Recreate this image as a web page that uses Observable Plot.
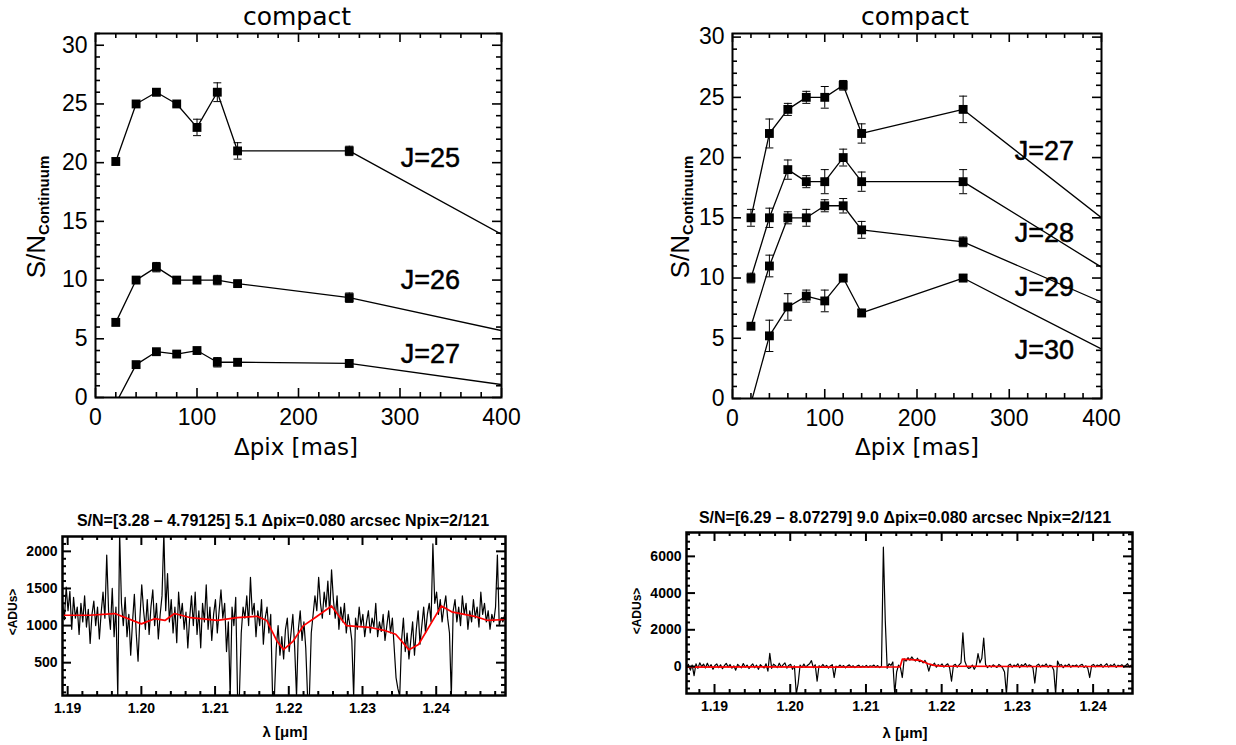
<!DOCTYPE html>
<html><head><meta charset="utf-8">
<script src="https://cdn.jsdelivr.net/npm/d3@7"></script>
<script src="https://cdn.jsdelivr.net/npm/@observablehq/plot@0.6"></script>
<style>
body{margin:0;background:#fff;}
#wrap{position:relative;width:1236px;height:745px;overflow:hidden;font-family:"Liberation Sans",Arial,sans-serif;color:#000;}
.abs{position:absolute;white-space:nowrap;line-height:1;}
.rot{transform:translate(-50%,-50%) rotate(-90deg);}
.ctr{transform:translate(-50%,-50%);}
</style></head><body><div id="wrap"></div>
<script>
// ---------- top panels: S/N vs pixel scale ----------
const pixScale = [20, 40, 60, 80, 100, 120, 140, 250, 400];

const leftNames = ["J=25", "J=26", "J=27"];
const leftJ25 = [20.1, 25.0, 26.0, 25.0, 23.0, 26.0, 21.0, 21.0, 13.9];
const leftJ25Err = [0.3, 0.2, 0.3, 0.2, 0.7, 0.8, 0.7, 0.4, 0];
const leftJ26 = [6.4, 10.0, 11.1, 10.0, 10.0, 10.0, 9.7, 8.5, 5.7];
const leftJ26Err = [0.3, 0.2, 0.4, 0.3, 0.2, 0.4, 0.2, 0.4, 0];
const leftJ27 = [-0.5, 2.8, 3.9, 3.7, 4.0, 3.0, 3.0, 2.9, 1.1];
const leftJ27Err = [0, 0.2, 0.2, 0.2, 0.2, 0.4, 0.3, 0.3, 0];
const leftLabelX = [330, 330, 330];
const leftLabelY = [20.4, 10.0, 3.7];

const rightNames = ["J=27", "J=28", "J=29", "J=30"];
const rightJ27 = [15.0, 22.0, 24.0, 25.0, 25.0, 26.0, 22.0, 24.0, 15.0];
const rightJ27Err = [0.7, 1.2, 0.5, 0.5, 0.9, 0.4, 0.8, 1.1, 0];
const rightJ28 = [10.0, 15.0, 19.0, 18.0, 18.0, 20.0, 18.0, 18.0, 10.9];
const rightJ28Err = [0.4, 0.8, 0.8, 0.5, 1.0, 0.7, 0.8, 1.0, 0];
const rightJ29 = [6.0, 11.0, 15.0, 15.0, 16.0, 16.0, 14.0, 13.0, 8.0];
const rightJ29Err = [0.2, 0.9, 0.5, 0.7, 0.5, 0.6, 0.7, 0.4, 0];
const rightJ30 = [-0.4, 5.2, 7.6, 8.5, 8.1, 10.0, 7.1, 10.0, 4.1];
const rightJ30Err = [0, 1.3, 1.1, 0.5, 0.9, 0.3, 0.3, 0.3, 0];
const rightLabelX = [338, 338, 338, 338];
const rightLabelY = [20.5, 13.7, 9.2, 4.0];

const topXTicks = [0, 100, 200, 300, 400];
const topYTicks = [0, 5, 10, 15, 20, 25, 30];

// ---------- bottom panels: spectra ----------
const specStep = 0.00025;
const specLeftStart = 1.1893;
const specLeftFlux = [
1320,1080,1520,1200,1460,950,1380,1100,1250,880,1300,1050,1400,980,1220,760,1150,1330,1000,1250,
820,1180,1450,1100,1950,1200,950,1500,850,1250,40,2250,1300,1000,1380,850,1150,600,1050,1420,
900,520,1100,1550,1200,950,1350,880,1250,1480,1000,1300,820,1150,1400,2250,1200,1700,1050,1350,
900,1250,770,1450,1100,1300,950,1180,700,1100,1400,1000,1450,880,1200,700,1300,1050,1550,950,
1250,800,1150,1350,900,1200,1480,1100,1300,650,1050,40,1250,1000,1380,40,60,900,1250,1100,
1400,1000,1650,1150,1300,850,1200,1000,1350,750,1100,1250,900,1150,40,50,700,1000,600,850,
550,950,1100,650,900,1150,700,40,950,1200,800,1050,700,40,60,900,1150,1400,1200,1650,
1300,1100,1450,1250,1600,1150,1750,1350,1100,1400,950,1250,1050,1300,900,1150,1000,800,40,1100,
950,1250,1000,1150,850,1050,1200,900,1100,980,1300,850,1050,920,1150,800,1000,1200,900,1100,
700,300,150,50,800,1100,650,900,550,800,1050,600,950,1200,750,1000,1250,900,1150,1300,
1050,2100,1300,1450,1150,1350,1050,1250,1400,1100,900,40,1200,1350,1050,1250,1000,1400,1150,1300,
950,1200,1050,1350,1100,1250,980,1450,1150,1300,1050,1200,950,1150,1050,1250,1950,1000,1100,1050,
1150];
const contLeftLam = [1.1895,1.1929,1.1964,1.2000,1.2018,1.2032,1.2045,1.2067,1.2103,1.2130,1.2157,1.2170,1.2184,1.2193,1.2206,1.2220,1.2237,1.2258,1.2269,1.2278,1.2309,1.2331,1.2345,1.2363,1.2376,1.2394,1.2407,1.2421,1.2452,1.2470,1.2495];
const contLeftFlux = [1139,1139,1162,1023,1093,1069,1162,1106,1069,1106,1125,1069,792,676,792,1000,1116,1264,1116,1000,977,931,884,676,745,1046,1264,1185,1125,1069,1083];

const specRightStart = 1.1863;
const specRightFlux = [
-50,120,-200,80,-500,150,-100,200,0,130,-80,180,-40,100,-150,60,140,-60,90,-120,
50,170,-30,110,-90,40,-200,120,20,-70,160,-40,80,-110,30,140,-60,70,-150,100,
10,-80,150,-250,720,-100,130,40,-60,180,-30,90,200,-90,60,120,-150,40,-1500,-900,
80,-50,130,-40,70,150,320,-60,90,-800,40,-30,110,-20,60,-90,30,100,-600,20,
-40,80,-20,50,-70,30,90,-30,40,-60,20,70,-40,30,-20,60,-50,40,0,80,
-30,50,-60,20,6500,2500,-100,150,60,250,-1500,-300,80,-50,-600,420,300,480,350,520,
380,300,450,260,320,200,330,150,-250,120,60,180,-40,100,30,140,-30,70,150,-80,
-800,60,120,-40,90,200,1830,300,20,-100,-60,80,-150,40,700,200,450,1550,100,-60,
50,-30,90,20,-50,110,40,-80,-300,-1500,60,130,-40,80,10,150,-60,100,30,160,
-20,90,40,-70,-900,60,130,-30,80,20,140,-40,70,30,-200,-1500,300,50,110,-60,
80,20,130,-40,60,10,90,-30,70,120,-50,40,-100,-600,50,110,-20,80,30,120,
-40,60,150,-30,90,20,140,-50,70,30,100,-40,60,150,-20,80];
const contRightLam = [1.1863,1.1950,1.2050,1.2145,1.2148,1.2160,1.2172,1.2182,1.2190,1.2200,1.2300,1.2452];
const contRightFlux = [-30,-20,-30,-20,400,380,330,150,60,20,0,0];

const lamTicks = [1.19, 1.20, 1.21, 1.22, 1.23, 1.24];
const leftFluxTicks = [500, 1000, 1500, 2000];
const rightFluxTicks = [0, 2000, 4000, 6000];

const titleTop = "compact";
const titleSpecLeft = "S/N=[3.28 \u2013 4.79125] 5.1 \u0394pix=0.080 arcsec Npix=2/121";
const titleSpecRight = "S/N=[6.29 \u2013 8.07279] 9.0 \u0394pix=0.080 arcsec Npix=2/121";

// ---------- helpers ----------
const wrap = document.getElementById("wrap");
const FONT = "Liberation Sans, Arial, sans-serif";
const capSymbol = {draw(ctx) { ctx.moveTo(-4, 0); ctx.lineTo(4, 0); }};

function place(el, left, top) {
  el.style.position = "absolute";
  el.style.left = left + "px";
  el.style.top = top + "px";
  wrap.appendChild(el);
}
function addText(html, x, y, css, cls) {
  const d = document.createElement("div");
  d.className = "abs " + (cls || "ctr");
  d.innerHTML = html;
  d.style.left = x + "px";
  d.style.top = y + "px";
  Object.assign(d.style, css || {});
  wrap.appendChild(d);
}
function frameTicks(o) {
  const H = o.height - o.marginTop - o.marginBottom;
  const W = o.width - o.marginLeft - o.marginRight;
  const m = [];
  const sw = o.tickWidth;
  for (const [vals, len] of [[o.xMajor, o.majLen], [o.xMinor, o.minLen]]) {
    m.push(Plot.tickX(vals, {x: d => d, insetTop: H - len, stroke: "black", strokeWidth: sw}));
    m.push(Plot.tickX(vals, {x: d => d, insetBottom: H - len, stroke: "black", strokeWidth: sw}));
  }
  for (const [vals, len] of [[o.yMajor, o.majLen], [o.yMinor, o.minLen]]) {
    m.push(Plot.tickY(vals, {y: d => d, insetRight: W - len, stroke: "black", strokeWidth: sw}));
    m.push(Plot.tickY(vals, {y: d => d, insetLeft: W - len, stroke: "black", strokeWidth: sw}));
  }
  return m;
}

function snPanel(cfg) {
  const rows = [], errRows = [];
  cfg.series.forEach((vals, s) => {
    vals.forEach((v, i) => {
      rows.push({x: pixScale[i], y: v, s: cfg.names[s]});
      const e = cfg.errs[s][i];
      if (pixScale[i] <= 250 && v >= 0) errRows.push({x: pixScale[i], y: v, lo: v - e, hi: v + e, s: cfg.names[s]});
    });
  });
  const bars = errRows.filter(d => d.hi - d.lo > 0);
  const labels = cfg.names.map((n, i) => ({x: cfg.labelX[i], y: cfg.labelY[i], t: n}));
  const o = {width: cfg.width, height: cfg.height, marginLeft: cfg.ml, marginRight: cfg.mr, marginTop: cfg.mt, marginBottom: cfg.mb};
  const minorX = d3.range(0, 401, 20).filter(v => !topXTicks.includes(v));
  const minorY = d3.range(0, Math.floor(cfg.ymax) + 1, 1).filter(v => !topYTicks.includes(v));
  const svg = Plot.plot({
    ...o,
    style: {fontFamily: FONT, background: "white", overflow: "visible"},
    x: {domain: [0, 400], label: null},
    y: {domain: [0, cfg.ymax], label: null},
    marks: [
      Plot.line(rows, {x: "x", y: "y", z: "s", stroke: "black", strokeWidth: 1.3, clip: true}),
      Plot.ruleX(bars, {x: "x", y1: "lo", y2: "hi", stroke: "black", strokeWidth: 1, clip: true}),
      Plot.dot(bars, {x: "x", y: "lo", symbol: capSymbol, stroke: "black", strokeWidth: 1, fill: "none"}),
      Plot.dot(bars, {x: "x", y: "hi", symbol: capSymbol, stroke: "black", strokeWidth: 1, fill: "none"}),
      Plot.dot(errRows, {x: "x", y: "y", symbol: "square", r: 5, fill: "black", stroke: "none", clip: true}),
      Plot.text(labels, {x: "x", y: "y", text: "t", fontSize: 27, fill: "black", stroke: "black", strokeWidth: 0.5, textAnchor: "middle", fontFamily: FONT}),
      ...frameTicks({...o, xMajor: topXTicks, xMinor: minorX, yMajor: topYTicks.filter(v => v <= cfg.ymax), yMinor: minorY, majLen: 9, minLen: 5, tickWidth: 1.6}),
      Plot.frame({stroke: "black", strokeWidth: 2}),
      Plot.axisX(topXTicks, {tickSize: 0, tickPadding: 11, fontSize: 23, fontFamily: FONT, fill: "black"}),
      Plot.axisY(topYTicks, {tickSize: 0, tickPadding: 8, fontSize: 23, fontFamily: FONT, fill: "black"})
    ]
  });
  place(svg, cfg.left, cfg.top);
}

function specPanel(cfg) {
  const rows = cfg.flux.map((v, i) => ({lam: cfg.start + i * specStep, v}));
  const cont = cfg.contLam.map((l, i) => ({lam: l, v: cfg.contFlux[i]}));
  const o = {width: cfg.width, height: cfg.height, marginLeft: cfg.ml, marginRight: cfg.mr, marginTop: cfg.mt, marginBottom: cfg.mb};
  const minorX = d3.range(1.18, 1.26, 0.002).map(v => +v.toFixed(3)).filter(v => v >= cfg.xdom[0] && v <= cfg.xdom[1] && !lamTicks.some(t => Math.abs(t - v) < 1e-6));
  const minorY = d3.range(Math.ceil(cfg.ydom[0] / cfg.yMinorStep) * cfg.yMinorStep, cfg.ydom[1], cfg.yMinorStep).filter(v => !cfg.yTicks.includes(v));
  const svg = Plot.plot({
    ...o,
    style: {fontFamily: FONT, background: "white", overflow: "visible"},
    x: {domain: cfg.xdom, label: null},
    y: {domain: cfg.ydom, label: null},
    marks: [
      Plot.line(rows, {x: "lam", y: "v", stroke: "black", strokeWidth: 1.2, clip: true}),
      Plot.line(cont, {x: "lam", y: "v", stroke: "#ff0000", strokeWidth: 1.7, clip: true}),
      ...frameTicks({...o, xMajor: lamTicks, xMinor: minorX, yMajor: cfg.yTicks, yMinor: minorY, majLen: 9, minLen: 4, tickWidth: 2}),
      Plot.frame({stroke: "black", strokeWidth: 2.5}),
      Plot.axisX(lamTicks, {tickSize: 0, tickPadding: 8, fontSize: 14, fontWeight: "bold", fontFamily: FONT, fill: "black", tickFormat: d3.format(".2f")}),
      Plot.axisY(cfg.yTicks, {tickSize: 0, tickPadding: 5, fontSize: 14, fontWeight: "bold", fontFamily: FONT, fill: "black", tickFormat: d => String(d)})
    ]
  });
  place(svg, cfg.left, cfg.top);
}

// ---------- draw ----------
snPanel({left: 0, top: 0, width: 540, height: 460, ml: 95, mr: 39, mt: 33, mb: 63, ymax: 31,
  names: leftNames, series: [leftJ25, leftJ26, leftJ27], errs: [leftJ25Err, leftJ26Err, leftJ27Err],
  labelX: leftLabelX, labelY: leftLabelY});
snPanel({left: 620, top: 0, width: 560, height: 460, ml: 112, mr: 79, mt: 33, mb: 62, ymax: 30.3,
  names: rightNames, series: [rightJ27, rightJ28, rightJ29, rightJ30], errs: [rightJ27Err, rightJ28Err, rightJ29Err, rightJ30Err],
  labelX: rightLabelX, labelY: rightLabelY});

specPanel({left: 0, top: 500, width: 560, height: 245, ml: 62, mr: 55, mt: 36, mb: 50,
  xdom: [1.1893, 1.2494], ydom: [58, 2200], yTicks: leftFluxTicks, yMinorStep: 100,
  start: specLeftStart, flux: specLeftFlux, contLam: contLeftLam, contFlux: contLeftFlux});
specPanel({left: 620, top: 500, width: 616, height: 245, ml: 66, mr: 104, mt: 32, mb: 52,
  xdom: [1.1863, 1.2452], ydom: [-1470, 7300], yTicks: rightFluxTicks, yMinorStep: 400,
  start: specRightStart, flux: specRightFlux, contLam: contRightLam, contFlux: contRightFlux});

// titles and axis titles
const TFONT = "'DejaVu Sans', 'Liberation Sans', sans-serif";
addText(titleTop, 297, 16, {fontSize: "25px", fontFamily: TFONT});
addText(titleTop, 915, 16, {fontSize: "25px", fontFamily: TFONT});
addText("\u0394pix [mas]", 296, 447, {fontSize: "23px", fontFamily: TFONT});
addText("\u0394pix [mas]", 917, 447, {fontSize: "23px", fontFamily: TFONT});
addText("S/N<sub style='font-size:15px;font-weight:bold;vertical-align:-4px'>Continuum</sub>", 37, 217, {fontSize: "26px"}, "rot");
addText("S/N<sub style='font-size:15px;font-weight:bold;vertical-align:-4px'>Continuum</sub>", 681, 217, {fontSize: "26px"}, "rot");

addText(titleSpecLeft, 283, 521, {fontSize: "16px", fontWeight: "bold"});
addText(titleSpecRight, 905, 518, {fontSize: "16px", fontWeight: "bold"});
addText("&lt;ADUs&gt;", 13, 612, {fontSize: "12px", fontWeight: "bold"}, "rot");
addText("&lt;ADUs&gt;", 637, 611, {fontSize: "12px", fontWeight: "bold"}, "rot");
addText("\u03bb [\u03bcm]", 285, 731, {fontSize: "15px", fontWeight: "bold"});
addText("\u03bb [\u03bcm]", 905, 732, {fontSize: "15px", fontWeight: "bold"});
</script></body></html>
